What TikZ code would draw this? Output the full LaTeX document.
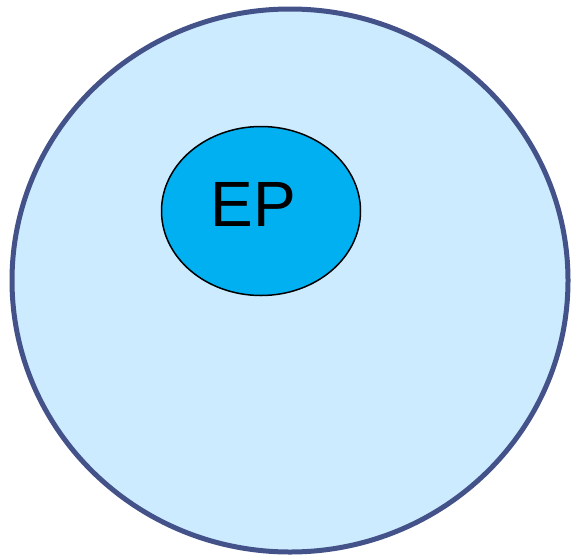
\documentclass[tikz,border=0pt]{standalone}
\usepackage{fontspec}
\setmainfont{Liberation Sans}
\usetikzlibrary{shapes.geometric}
\definecolor{outerfill}{HTML}{CCEBFF}
\definecolor{outerline}{HTML}{44528A}
\definecolor{innerfill}{HTML}{00B0F0}
\tikzset{
  outerell/.style={draw=outerline, fill=outerfill, line width=5pt, ellipse, minimum width=556pt, minimum height=543pt, inner sep=0pt},
  innerell/.style={draw=black, fill=innerfill, line width=1.5pt, ellipse, minimum width=199pt, minimum height=169pt, inner sep=0pt},
  eptext/.style={font=\fontsize{64pt}{64pt}\selectfont, inner sep=0pt, anchor=base}
}
\begin{document}
\begin{tikzpicture}[x=1pt,y=1pt]
\useasboundingbox (0,0) rectangle (572,-557);
\node[outerell] (outer) at (290,-280.5) {};
\node[innerell] (inner) at (261,-211) {};
\node[eptext] (ep) at (253,-226) {EP};
\end{tikzpicture}
\end{document}
